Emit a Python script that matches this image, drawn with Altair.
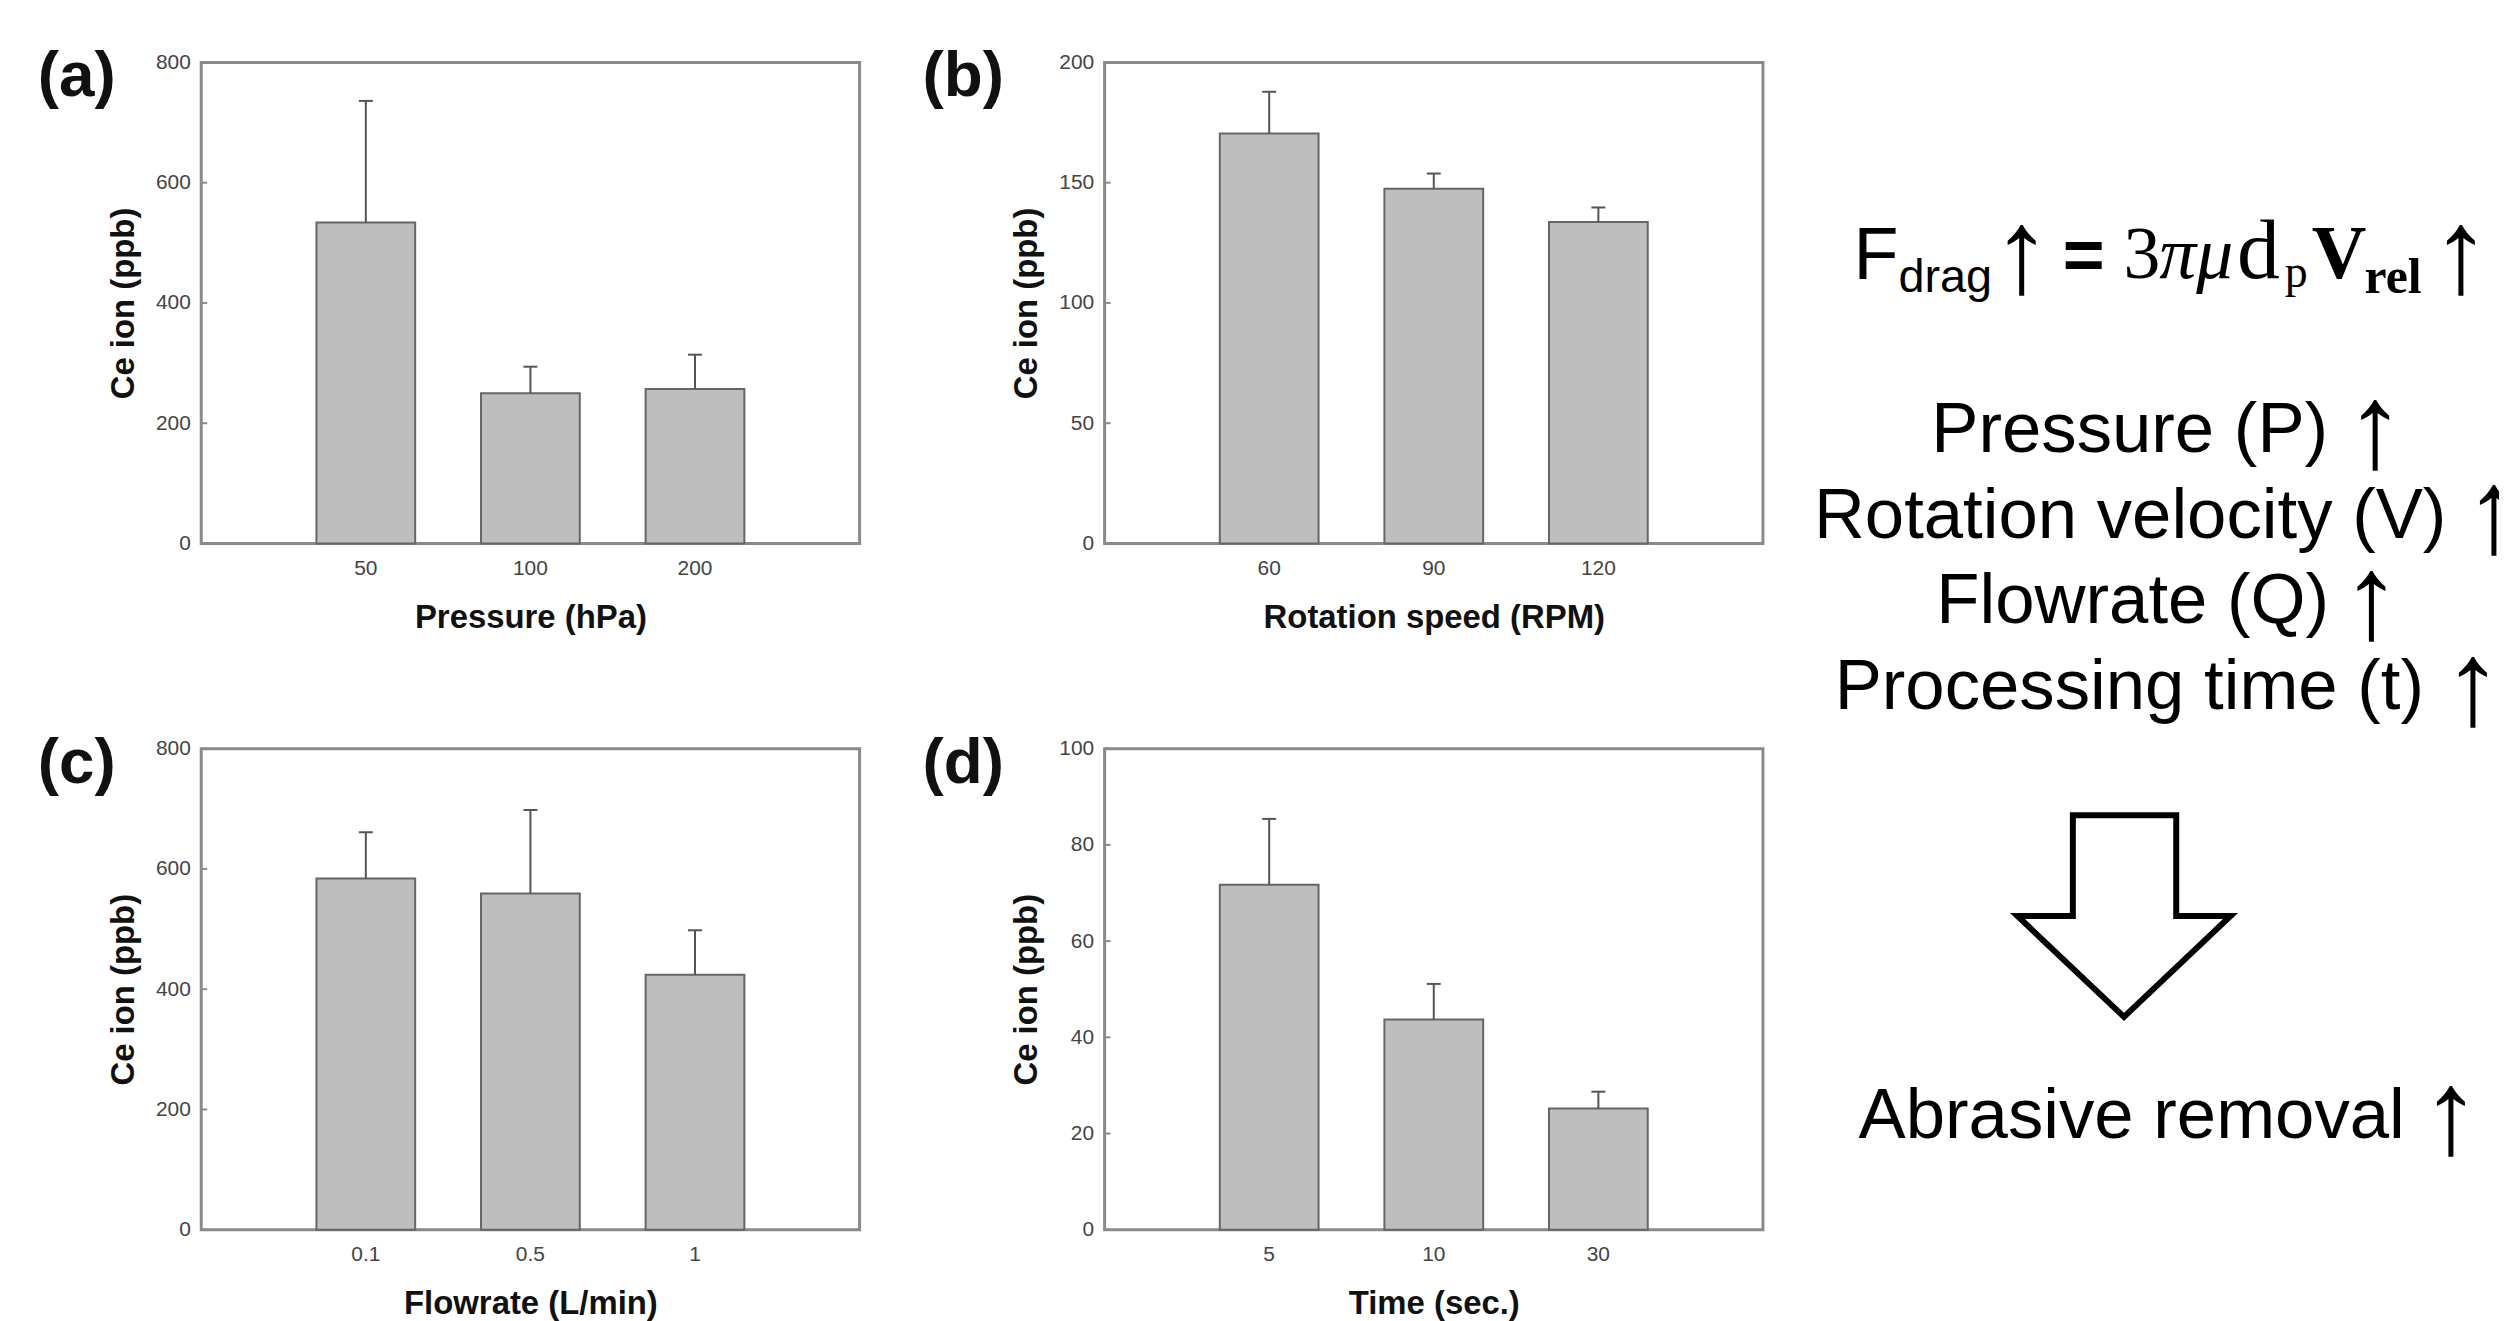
import altair as alt
import pandas as pd

# ---------------- data ----------------
panel_tags = ["(a)", "(b)", "(c)", "(d)"]
x_titles = ["Pressure (hPa)", "Rotation speed (RPM)", "Flowrate (L/min)", "Time (sec.)"]
y_title = "Ce ion (ppb)"

cats_a = ["50", "100", "200"]
vals_a = [534, 250, 257]
errs_a = [202, 44, 57]

cats_b = ["60", "90", "120"]
vals_b = [170.5, 147.5, 133.7]
errs_b = [17.3, 6.3, 6.0]

cats_c = ["0.1", "0.5", "1"]
vals_c = [584, 559, 424]
errs_c = [77, 139, 74]

cats_d = ["5", "10", "30"]
vals_d = [71.7, 43.7, 25.2]
errs_d = [13.7, 7.4, 3.5]

y_max = [800, 200, 800, 100]
y_step = [200, 50, 200, 20]

formula_f = "F"
formula_drag = "drag"
formula_eq = "="
formula_3 = "3"
formula_pimu = "πμ"
formula_d = "d"
formula_p = "p"
formula_v = "V"
formula_rel = "rel"
up_arrow = "↑"
note_lines = ["Pressure (P)", "Rotation velocity (V)", "Flowrate (Q)", "Processing time (t)"]
result_text = "Abrasive removal"

SANS = "Liberation Sans"
SERIF = "Liberation Serif"
PW, PH = 661, 483


def panel(tag, cats, vals, errs, xtitle, ymax, ystep, tag_dx):
    df = pd.DataFrame({"cat": cats, "val": vals,
                       "hi": [v + e for v, e in zip(vals, errs)]})
    tick_vals = list(range(0, ymax + 1, ystep))
    tdf = pd.DataFrame({"val": tick_vals})
    xs = alt.Scale(paddingInner=0.4, paddingOuter=0.7)
    xax = alt.Axis(title=xtitle, labelAngle=0, ticks=False, domain=False,
                   labelPadding=14, titlePadding=23, labelFontSize=21,
                   labelColor="#444", titleFontSize=33, titleFontWeight="bold",
                   titleColor="#111", labelFont=SANS, titleFont=SANS)
    ys = alt.Scale(domain=[0, ymax], nice=False, zero=True)
    yax = alt.Axis(title=y_title, values=tick_vals, ticks=False, domain=False,
                   grid=False, labelPadding=11, titlePadding=15, labelFontSize=21,
                   labelColor="#444", titleFontSize=33, titleFontWeight="bold",
                   titleColor="#111", labelFont=SANS, titleFont=SANS)

    def X():
        return alt.X("cat:N", sort=cats, scale=xs, axis=xax)

    def Y(field):
        return alt.Y(field, scale=ys, axis=yax, title=y_title)

    bars = alt.Chart(df).mark_bar(fill="#bebebe", stroke="#666666",
                                  strokeWidth=2).encode(x=X(), y=Y("val:Q"))
    err = alt.Chart(df).mark_rule(color="#555555", strokeWidth=2).encode(
        x=X(), y=Y("val:Q"), y2="hi:Q")
    cap = alt.Chart(df).mark_tick(size=14, thickness=2, color="#555555",
                                  opacity=1).encode(x=X(), y=Y("hi:Q"))
    ticks = alt.Chart(tdf).mark_rule(color="#8a8a8a", strokeWidth=2).encode(
        y=Y("val:Q"), x=alt.value(0), x2=alt.value(6))
    label = alt.Chart(pd.DataFrame({"t": [tag]})).mark_text(
        font=SANS, fontSize=64, fontWeight="bold", color="#111",
        align="center", baseline="middle").encode(
        text="t:N", x=alt.value(tag_dx), y=alt.value(15))
    return alt.layer(bars, err, cap, ticks, label).properties(
        width=PW, height=PH,
        view=alt.ViewBackground(stroke="#8a8a8a", strokeWidth=3))


pa = panel(panel_tags[0], cats_a, vals_a, errs_a, x_titles[0], y_max[0], y_step[0], -125)
pb = panel(panel_tags[1], cats_b, vals_b, errs_b, x_titles[1], y_max[1], y_step[1], -142)
pc = panel(panel_tags[2], cats_c, vals_c, errs_c, x_titles[2], y_max[2], y_step[2], -125)
pd_ = panel(panel_tags[3], cats_d, vals_d, errs_d, x_titles[3], y_max[3], y_step[3], -142)

# ---------------- right-hand annotation panel ----------------
one = pd.DataFrame({"a": [0]})


def txt(s, x, y, size, font=SANS, weight="normal", style="normal", align="left",
        baseline="alphabetic"):
    return alt.Chart(one).mark_text(
        text=s, font=font, fontSize=size, fontWeight=weight, fontStyle=style,
        align=align, baseline=baseline, color="black", clip=True).encode(
        x=alt.value(x), y=alt.value(y))


ARROW_SIZE = 120
DY = -3
layers = [
    txt(formula_f, 34, 220 + DY, 74),
    txt(formula_drag, 79, 233 + DY, 47),
    txt(up_arrow, 203, 233 + DY, ARROW_SIZE, align="center"),
    txt(formula_eq, 244, 220 + DY, 72, weight="bold"),
    txt(formula_3, 305, 219 + DY, 74, font=SERIF),
    txt(formula_pimu, 341, 219 + DY, 74, font=SERIF, style="italic"),
    txt(formula_d, 419, 219 + DY, 86, font=SERIF),
    txt(formula_p, 467, 228 + DY, 46, font=SERIF),
    txt(formula_v, 494, 219 + DY, 76, font=SERIF, weight="bold"),
    txt(formula_rel, 547, 235 + DY, 50, font=SERIF, weight="bold"),
    txt(up_arrow, 644, 233 + DY, ARROW_SIZE, align="center"),
]
line_x = [112, -6, 117, 15]
arrow_x = [558, 677, 554, 656]
for i, line in enumerate(note_lines):
    base = 394 + 86 * i + DY
    layers.append(txt(line, line_x[i], base, 71))
    layers.append(txt(up_arrow, arrow_x[i], base + 15, ARROW_SIZE, align="center"))
layers.append(txt(result_text, 39, 1083 + DY, 71))
layers.append(txt(up_arrow, 634, 1098 + DY, ARROW_SIZE, align="center"))

arrow_path = "M -0.48 -0.946 L 0.49 -0.946 L 0.49 0 L 1 0 L 0 0.946 L -1 0 L -0.48 0 Z"
layers.append(
    alt.Chart(one).mark_point(shape=arrow_path, size=214 * 214, filled=False,
                              stroke="black", strokeWidth=6, opacity=1,
                              clip=True).encode(
        x=alt.value(305.5), y=alt.value(857)))

text_panel = alt.layer(*layers).properties(
    width=682, height=1180, view=alt.ViewBackground(strokeOpacity=0))

charts_block = alt.hconcat(
    alt.vconcat(pa, pc, spacing=94),
    alt.vconcat(pb, pd_, spacing=94),
    spacing=59,
)

chart = alt.hconcat(charts_block, text_panel, spacing=55).properties(
    padding={"left": 28, "top": 33, "right": 0, "bottom": 0},
).configure(background="white", font=SANS)

chart.save("out.html", embed_options={"renderer": "svg", "actions": False})
